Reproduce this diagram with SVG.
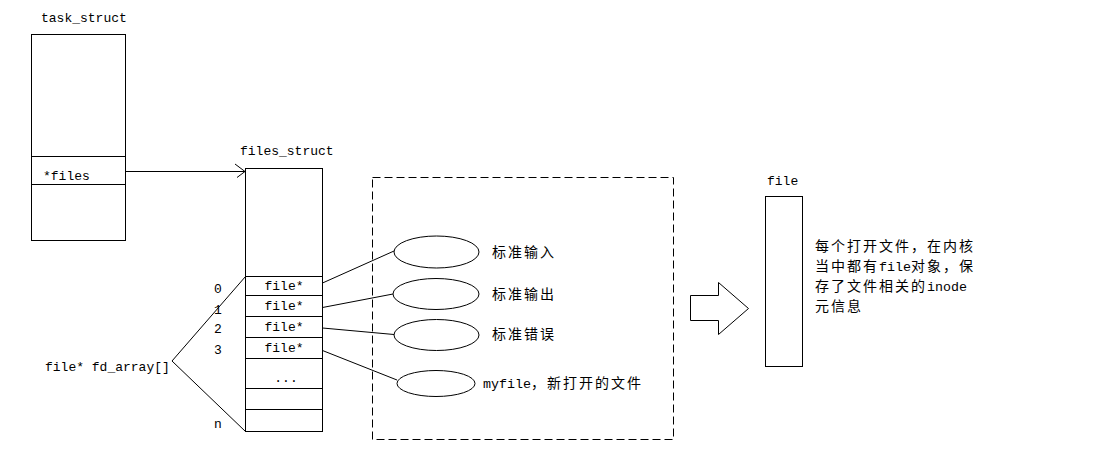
<svg xmlns="http://www.w3.org/2000/svg" width="1120" height="473" viewBox="0 0 1120 473">
<style>
.box{fill:none;stroke:#000;stroke-width:1}
.ln{fill:none;stroke:#000;stroke-width:1}
.m{font-family:"Liberation Mono","DejaVu Sans Mono",monospace;font-size:13px;fill:#000}
.c{font-family:"Noto Sans CJK SC","Noto Sans",sans-serif;font-size:14px;letter-spacing:2px;fill:#000}
.cm{font-family:"Liberation Mono","DejaVu Sans Mono",monospace;font-size:13.33px;letter-spacing:0}
</style>
<rect width="1120" height="473" fill="#fff"/>
<g id="task_struct">
<text class="m" x="41" y="21.5">task_struct</text>
<rect class="box" x="31.5" y="34.5" width="94" height="206"/>
<line class="ln" x1="31.5" y1="156.5" x2="125.5" y2="156.5"/>
<line class="ln" x1="31.5" y1="184.5" x2="125.5" y2="184.5"/>
<text class="m" x="43" y="179.5">*files</text>
</g>
<g id="files_struct">
<text class="m" x="240" y="155">files_struct</text>
<rect class="box" x="245.5" y="168.5" width="77" height="263"/>
<line class="ln" x1="245.5" y1="276.5" x2="322.5" y2="276.5"/>
<line class="ln" x1="245.5" y1="295.5" x2="322.5" y2="295.5"/>
<line class="ln" x1="245.5" y1="316.5" x2="322.5" y2="316.5"/>
<line class="ln" x1="245.5" y1="337.5" x2="322.5" y2="337.5"/>
<line class="ln" x1="245.5" y1="358.5" x2="322.5" y2="358.5"/>
<line class="ln" x1="245.5" y1="388.5" x2="322.5" y2="388.5"/>
<line class="ln" x1="245.5" y1="409.5" x2="322.5" y2="409.5"/>
<text class="m" x="284" y="290" text-anchor="middle">file*</text>
<text class="m" x="284" y="310" text-anchor="middle">file*</text>
<text class="m" x="284" y="331" text-anchor="middle">file*</text>
<text class="m" x="284" y="352" text-anchor="middle">file*</text>
<text class="m" x="286" y="382" text-anchor="middle">...</text>
<text class="m" x="214" y="292.5">0</text>
<text class="m" x="214" y="313.5">1</text>
<text class="m" x="214" y="332.5">2</text>
<text class="m" x="214" y="353.5">3</text>
<text class="m" x="214" y="427.5">n</text>
</g>
<g id="fd_array">
<text class="m" x="45" y="371">file* fd_array[]</text>
</g>
<g id="open_files">
<rect class="box" x="372.5" y="177.5" width="301" height="262" stroke-dasharray="8,4"/>
<ellipse class="box" cx="436.5" cy="252" rx="42.5" ry="16"/>
<ellipse class="box" cx="436" cy="294" rx="43" ry="15.5"/>
<ellipse class="box" cx="436.5" cy="335" rx="42.5" ry="15.5"/>
<ellipse class="box" cx="436" cy="383.5" rx="39" ry="13"/>
<text class="c" x="492" y="257">标准输入</text>
<text class="c" x="492" y="299">标准输出</text>
<text class="c" x="492" y="339">标准错误</text>
<text class="c" x="483" y="388"><tspan class="cm">myfile</tspan>，新打开的文件</text>
</g>
<g id="block_arrow">
<polygon class="box" points="690.5,295.5 718.5,295.5 718.5,282.5 748.5,308.5 718.5,334.5 718.5,320.5 690.5,320.5"/>
</g>
<g id="file">
<text class="m" x="767" y="184.5">file</text>
<rect class="box" x="765.5" y="196.5" width="37" height="170"/>
<text class="c" x="815" y="251">每个打开文件，在内核</text>
<text class="c" x="815" y="271">当中都有<tspan class="cm">file</tspan>对象，保</text>
<text class="c" x="815" y="291">存了文件相关的<tspan class="cm">inode</tspan></text>
<text class="c" x="815" y="311">元信息</text>
</g>
<g id="connectors">
<line class="ln" x1="125.5" y1="171.5" x2="245" y2="171.5"/>
<polyline class="ln" points="235,164 245,171.5 237,177.5"/>
<line class="ln" x1="172" y1="361" x2="245.5" y2="276.5"/>
<line class="ln" x1="172" y1="361" x2="245.5" y2="431.5"/>
<line class="ln" x1="322.5" y1="283" x2="394" y2="251"/>
<line class="ln" x1="322.5" y1="307.5" x2="393" y2="294"/>
<line class="ln" x1="322.5" y1="328" x2="394" y2="334.5"/>
<line class="ln" x1="322.5" y1="350.5" x2="397" y2="380"/>
</g>
</svg>
